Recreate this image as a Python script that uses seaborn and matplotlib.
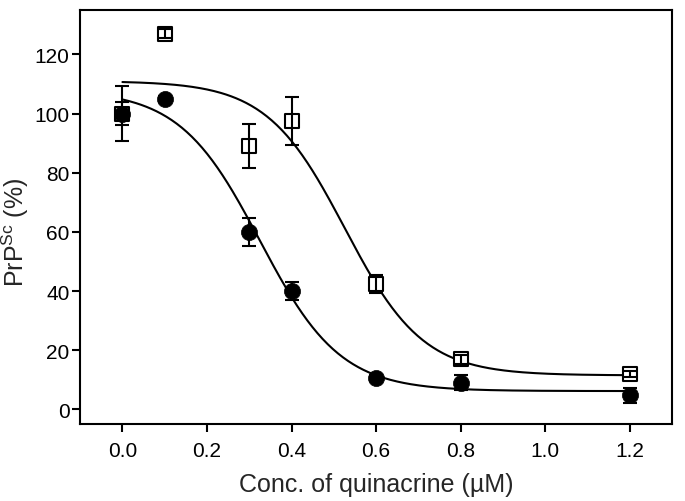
import matplotlib
matplotlib.use('Agg')
import matplotlib.pyplot as plt
import numpy as np
import pandas as pd
import seaborn as sns

# measured points (conc. of quinacrine, uM)
conc = [0.0, 0.1, 0.3, 0.4, 0.6, 0.8, 1.2]
filled_pct = [100, 105, 60, 40, 10.5, 9, 4.7]
filled_err = [4, 1, 4.8, 3.1, 1, 2.5, 2.7]
open_pct = [100, 127, 89, 97.5, 42.5, 17, 12]
open_err = [9.2, 1.5, 7.4, 8.1, 3, 1.5, 1]

# Boltzmann fit parameters (A1, A2, x0, dx)
filled_fit = (108, 6.2, 0.325, 0.095)
open_fit = (111, 11.5, 0.526, 0.0925)


def boltzmann(x, a1, a2, x0, dx):
    return a2 + (a1 - a2) / (1 + np.exp((x - x0) / dx))


sns.set_style('ticks')
plt.rcParams['font.family'] = ['Liberation Sans', 'DejaVu Sans']

fig = plt.figure(figsize=(6.85, 5.02), dpi=100)
ax = fig.add_axes([0.117, 0.153, 0.864, 0.825])

xs = np.linspace(0, 1.2, 300)
fits = pd.DataFrame({'x': xs,
                     'filled': boltzmann(xs, *filled_fit),
                     'open': boltzmann(xs, *open_fit)})
sns.lineplot(data=fits, x='x', y='open', color='black', lw=1.5, ax=ax, zorder=2)
sns.lineplot(data=fits, x='x', y='filled', color='black', lw=1.5, ax=ax, zorder=2)

sns.scatterplot(x=conc, y=open_pct, marker='s', s=90, facecolor='white',
                edgecolor='black', linewidth=1.5, ax=ax, zorder=3)
ax.errorbar(conc, open_pct, yerr=open_err, fmt='none', ecolor='black',
            elinewidth=1.5, capsize=5, capthick=1.5, zorder=4)
ax.errorbar(conc, filled_pct, yerr=filled_err, fmt='none', ecolor='black',
            elinewidth=1.5, capsize=5, capthick=1.5, zorder=5)
sns.scatterplot(x=conc, y=filled_pct, marker='o', s=135, color='black',
                edgecolor='black', linewidth=0.5, ax=ax, zorder=6)

ax.set_xlim(-0.1, 1.3)
ax.set_ylim(-5, 135)
ax.set_xticks(np.arange(0, 1.21, 0.2))
ax.set_yticks(np.arange(0, 121, 20))
ax.xaxis.set_major_formatter(matplotlib.ticker.FormatStrFormatter('%.1f'))
ax.tick_params(direction='out', length=6, width=1.5, labelsize=15, colors='black')
ax.tick_params(axis='x', pad=6)
ax.tick_params(axis='y', pad=1.5)
for sp in ax.spines.values():
    sp.set_visible(True)
    sp.set_linewidth(1.5)
    sp.set_color('black')

ax.set_xlabel('Conc. of quinacrine (\u00b5M)', fontsize=18, labelpad=9)
ax.set_ylabel('PrP$^{\\mathregular{Sc}}$ (%)', fontsize=18)
ax.yaxis.set_label_coords(-0.083, 0.466)

fig.savefig('out.png', dpi=100)
